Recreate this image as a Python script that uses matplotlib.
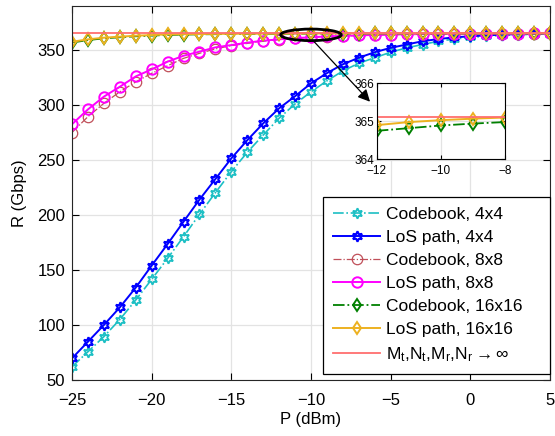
import numpy as np
import matplotlib
matplotlib.use("Agg")
import matplotlib.pyplot as plt
from matplotlib.patches import Ellipse

plt.rcParams['font.family'] = ['Liberation Sans', 'DejaVu Sans']
plt.rcParams['mathtext.fontset'] = 'custom'
plt.rcParams['mathtext.rm'] = 'Liberation Sans'
plt.rcParams['mathtext.default'] = 'regular'

# transmit power grid (dBm)
P = np.arange(-25, 6)

cb_4x4 = [62, 75.7, 89.4, 105, 122.7, 141.5, 160.6, 180.3, 200.6, 220.3, 239.4,
          257, 272.7, 288, 301, 312, 322, 331, 338, 343, 348, 352, 355, 358,
          360, 361.5, 362.5, 363.3, 363.9, 364.3, 364.6]
los_4x4 = [69.7, 84.8, 100, 116, 134, 154, 173.6, 193.9, 214, 232.7, 251.5,
           268, 283.3, 297, 308, 319.7, 329, 337, 343, 348, 352, 355, 358, 360,
           361.5, 362.5, 363.3, 364, 364.4, 364.7, 365]
cb_8x8 = [275, 289.4, 301.5, 312, 321, 328.8, 335.7, 342.4, 347, 351, 354,
          356, 358, 359.5, 360.6, 361.5, 362.2, 362.8, 363.2, 363.6, 363.9,
          364.2, 364.4, 364.55, 364.7, 364.8, 364.85, 364.9, 364.95, 365, 365.05]
los_8x8 = [282.5, 296, 307.6, 316.6, 326, 332.4, 339.4, 344.8, 348.5, 352.4,
           354.5, 356.7, 358.5, 359.7, 360.8, 361.6, 362.3, 362.9, 363.3, 363.7,
           364, 364.3, 364.5, 364.6, 364.75, 364.85, 364.9, 364.95, 365, 365.05, 365.1]
cb_16x16 = [356.8, 359, 360.6, 361.6, 362.5, 363.1, 363.7, 364, 364.25, 364.4,
            364.55, 364.65, 364.7, 364.75, 364.82, 364.89, 364.94, 364.98, 365.0,
            365.02, 365.04, 365.05, 365.06, 365.07, 365.08, 365.09, 365.09, 365.1,
            365.1, 365.1, 365.1]
los_16x16 = [357.5, 359.7, 361.2, 362.1, 363, 363.6, 364.2, 364.4, 364.55, 364.65,
             364.75, 364.8, 364.85, 364.9, 364.98, 365.03, 365.07, 365.1, 365.11,
             365.12, 365.12, 365.12, 365.12, 365.12, 365.12, 365.12, 365.12, 365.12,
             365.12, 365.12, 365.12]
limit = 365.12

hexagram = (6, 1, 0)

series = [
    (cb_4x4, dict(color='#1cbfc4', ls='-.', lw=1.2, marker=hexagram, ms=7.5,
                  mfc='none', mew=1.3), 'Codebook, 4x4'),
    (los_4x4, dict(color='#0000ff', ls='-', lw=1.4, marker=hexagram, ms=7.5,
                   mfc='none', mew=1.5), 'LoS path, 4x4'),
    (cb_8x8, dict(color='#c0505a', ls='-.', lw=0.9, marker='o', ms=7.5,
                  mfc='none', mew=0.9), 'Codebook, 8x8'),
    (los_8x8, dict(color='#ff00ff', ls='-', lw=1.4, marker='o', ms=7.5,
                   mfc='none', mew=1.4), 'LoS path, 8x8'),
    (cb_16x16, dict(color='#008000', ls='-.', lw=1.3, marker='d', ms=6.5,
                    mfc='none', mew=1.4), 'Codebook, 16x16'),
    (los_16x16, dict(color='#edb120', ls='-', lw=1.4, marker='d', ms=6.5,
                     mfc='none', mew=1.4), 'LoS path, 16x16'),
]
limit_label = r'M$_t$,N$_t$,M$_r$,N$_r$$\rightarrow\infty$'

fig = plt.figure(figsize=(5.55, 4.36), dpi=100)
ax = fig.add_axes([0.1297, 0.1284, 0.8613, 0.8578])

for vals, style, lab in series:
    ax.plot(P, vals, label=lab, **style)
ax.plot(P, [limit] * len(P), color='#ff6e6e', lw=1.3, label=limit_label)

ax.set_xlim(-25, 5)
ax.set_ylim(50, 390)
ax.set_xticks(np.arange(-25, 6, 5))
ax.set_yticks(np.arange(50, 351, 50))
ax.grid(True, color='#e3e3e3', lw=0.9)
ax.set_axisbelow(True)
ax.tick_params(direction='in', top=True, right=True, labelsize=12, length=5)
ax.tick_params(axis='x', pad=9)
ax.tick_params(axis='y', pad=5)
for s in ax.spines.values():
    s.set_color('#262626')
ax.set_xlabel('P (dBm)', fontsize=12, labelpad=3)
ax.set_ylabel('R (Gbps)', fontsize=12, labelpad=7)

leg = ax.legend(loc='lower left', bbox_to_anchor=(0.525, 0.016, 0.475, 0.47),
                mode='expand', borderaxespad=0,
                fontsize=12.5, handlelength=2.7, labelspacing=0.45,
                fancybox=False, edgecolor='black', framealpha=1,
                borderpad=0.6, handletextpad=0.35)
leg.get_frame().set_linewidth(0.9)

# zoom marker on the main plot
ax.add_patch(Ellipse((-10, 363.8), 3.8, 10.5, fill=False, color='black', lw=2, zorder=5))
ax.annotate('', xy=(0.6667, 0.7667), xycoords='figure fraction',
            xytext=(-9.87, 358.6), textcoords='data',
            arrowprops=dict(arrowstyle='-|>', color='black', lw=0.9,
                            mutation_scale=18, shrinkA=0, shrinkB=0), zorder=6)

# inset
axin = fig.add_axes([0.679, 0.6346, 0.2306, 0.1743])
for vals, style, lab in series[4:]:
    axin.plot(P, vals, **style)
axin.plot(P, [limit] * len(P), color='#ff6e6e', lw=1.3)
axin.set_xlim(-12, -8)
axin.set_ylim(364, 366)
axin.set_xticks([-12, -10, -8])
axin.set_yticks([364, 365, 366])
axin.grid(True, color='#e3e3e3', lw=0.9)
axin.tick_params(direction='in', top=True, right=True, labelsize=8.5, length=3, pad=2)
axin.tick_params(axis='x', pad=4)

fig.savefig('out.png', dpi=100)
